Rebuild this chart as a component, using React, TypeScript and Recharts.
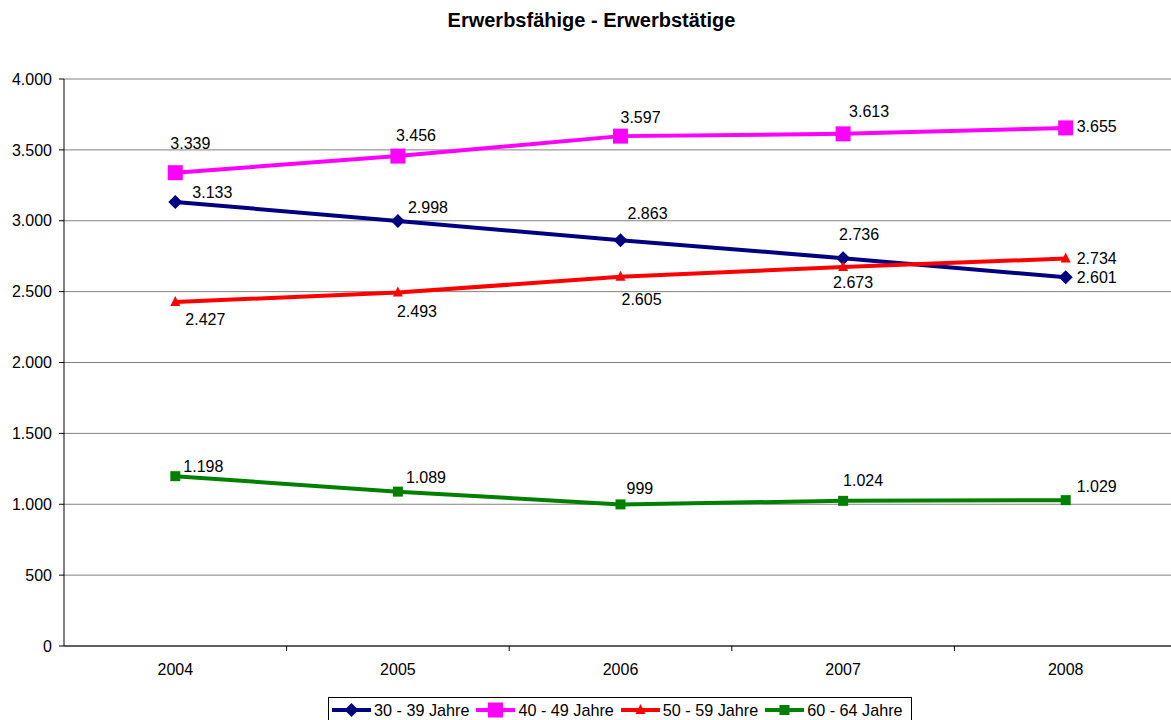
import React from "react"
import { LineChart, Line, XAxis, YAxis, CartesianGrid } from "recharts"

const years = ["2004", "2005", "2006", "2007", "2008"]
const age3039 = [3133, 2998, 2863, 2736, 2601]
const age4049 = [3339, 3456, 3597, 3613, 3655]
const age5059 = [2427, 2493, 2605, 2673, 2734]
const age6064 = [1198, 1089, 999, 1024, 1029]
const yTicks = [0, 500, 1000, 1500, 2000, 2500, 3000, 3500, 4000]

const rows = years.map((year, i) => ({
  year,
  a3039: age3039[i],
  a4049: age4049[i],
  a5059: age5059[i],
  a6064: age6064[i],
}))

// label nudges (dx, dy) so labels sit where the original Excel chart had them
const labelShift: Record<string, number[][]> = {
  a3039: [[17, -9], [10, -14], [7, -27], [-4, -24], [11, 0]],
  a4049: [[-5, -29], [-2, -21], [0, -19], [6, -22], [11, -1]],
  a5059: [[10, 18], [-1, 19], [1, 23], [-10, 15], [11, 0]],
  a6064: [[8, -10], [8, -14], [6, -16], [0, -20], [11, -14]],
}

const FONT = "'Liberation Sans', Arial, sans-serif"
const CHART_W = 1177
const Y_W = 64
const BAND = (CHART_W - Y_W) / years.length

const fmt = (v: number) => String(v).replace(/\B(?=(\d{3})+(?!\d))/g, ".")

type Shape = "diamond" | "square" | "triangle" | "smallSquare"

const series: { key: string; name: string; color: string; shape: Shape }[] = [
  { key: "a3039", name: "30 - 39 Jahre", color: "#000080", shape: "diamond" },
  { key: "a4049", name: "40 - 49 Jahre", color: "#FF00FF", shape: "square" },
  { key: "a5059", name: "50 - 59 Jahre", color: "#FF0000", shape: "triangle" },
  { key: "a6064", name: "60 - 64 Jahre", color: "#008000", shape: "smallSquare" },
]

function Marker({ cx, cy, shape, color }: { cx: number; cy: number; shape: Shape; color: string }) {
  if (shape === "diamond") {
    const r = 7
    return <polygon points={`${cx},${cy - r} ${cx + r},${cy} ${cx},${cy + r} ${cx - r},${cy}`} fill={color} />
  }
  if (shape === "square") {
    return <rect x={cx - 7.5} y={cy - 7.5} width={15} height={15} fill={color} />
  }
  if (shape === "triangle") {
    return <polygon points={`${cx},${cy - 6} ${cx + 5},${cy + 4} ${cx - 5},${cy + 4}`} fill={color} />
  }
  return <rect x={cx - 5} y={cy - 5} width={10} height={10} fill={color} />
}

function YearTick(props: any) {
  const { x, y, payload } = props
  const axisY = y - 8
  return (
    <g>
      <line x1={x + BAND / 2} x2={x + BAND / 2} y1={axisY} y2={axisY + 5} stroke="#000" />
      <text x={x} y={axisY + 29} textAnchor="middle" fontFamily={FONT} fontSize={16} fill="#000">
        {payload.value}
      </text>
    </g>
  )
}

export default function App() {
  return (
    <div
      style={{
        position: "absolute",
        left: 0,
        top: 0,
        width: 1171,
        height: 720,
        overflow: "hidden",
        background: "#fff",
        fontFamily: FONT,
      }}
    >
      <div
        style={{
          position: "absolute",
          left: 0,
          top: 10,
          width: 1183,
          textAlign: "center",
          fontWeight: "bold",
          fontSize: 20,
          lineHeight: "20px",
        }}
      >
        Erwerbsfähige - Erwerbstätige
      </div>

      <LineChart width={CHART_W} height={720} data={rows} margin={{ top: 79, right: 0, bottom: 44, left: 0 }}>
        <CartesianGrid vertical={false} stroke="#808080" />
        <XAxis
          dataKey="year"
          height={30}
          padding={{ left: BAND / 2, right: BAND / 2 }}
          tickSize={6}
          tickMargin={2}
          tickLine={false}
          axisLine={{ stroke: "#000" }}
          tick={<YearTick />}
        />
        <YAxis
          width={Y_W}
          domain={[0, 4000]}
          ticks={yTicks}
          tickFormatter={fmt}
          tickSize={5}
          tickMargin={7}
          axisLine={{ stroke: "#000" }}
          tickLine={{ stroke: "#000" }}
          tick={{ fill: "#000", fontSize: 16, fontFamily: FONT }}
        />
        {series.map((s) => (
          <Line
            key={s.key}
            dataKey={s.key}
            name={s.name}
            stroke={s.color}
            strokeWidth={4}
            isAnimationActive={false}
            dot={(p: any) => <Marker key={`${s.key}-${p.index}`} cx={p.cx} cy={p.cy} shape={s.shape} color={s.color} />}
            activeDot={false}
            label={(p: any) => {
              const [dx, dy] = labelShift[s.key][p.index] || [0, 0]
              return (
                <text
                  key={`${s.key}-lbl-${p.index}`}
                  x={p.x + dx}
                  y={p.y + dy}
                  textAnchor="start"
                  dominantBaseline="central"
                  fontFamily={FONT}
                  fontSize={16}
                  fill="#000"
                >
                  {fmt(p.value)}
                </text>
              )
            }}
          />
        ))}
      </LineChart>

      <div
        style={{
          position: "absolute",
          left: 328,
          top: 697,
          width: 584,
          height: 26,
          boxSizing: "border-box",
          border: "1px solid #000",
          display: "flex",
          alignItems: "flex-start",
          paddingLeft: 3,
          fontSize: 16.2,
          lineHeight: "24px",
          whiteSpace: "nowrap",
        }}
      >
        {series.map((s) => (
          <div key={s.key} style={{ display: "flex", alignItems: "center", marginRight: 7 }}>
            <svg width={39} height={24} style={{ display: "block" }}>
              <line x1={0} x2={39} y1={12} y2={12} stroke={s.color} strokeWidth={4} />
              <Marker cx={19.5} cy={12} shape={s.shape} color={s.color} />
            </svg>
            <span style={{ marginLeft: 3 }}>{s.name}</span>
          </div>
        ))}
      </div>
    </div>
  )
}
